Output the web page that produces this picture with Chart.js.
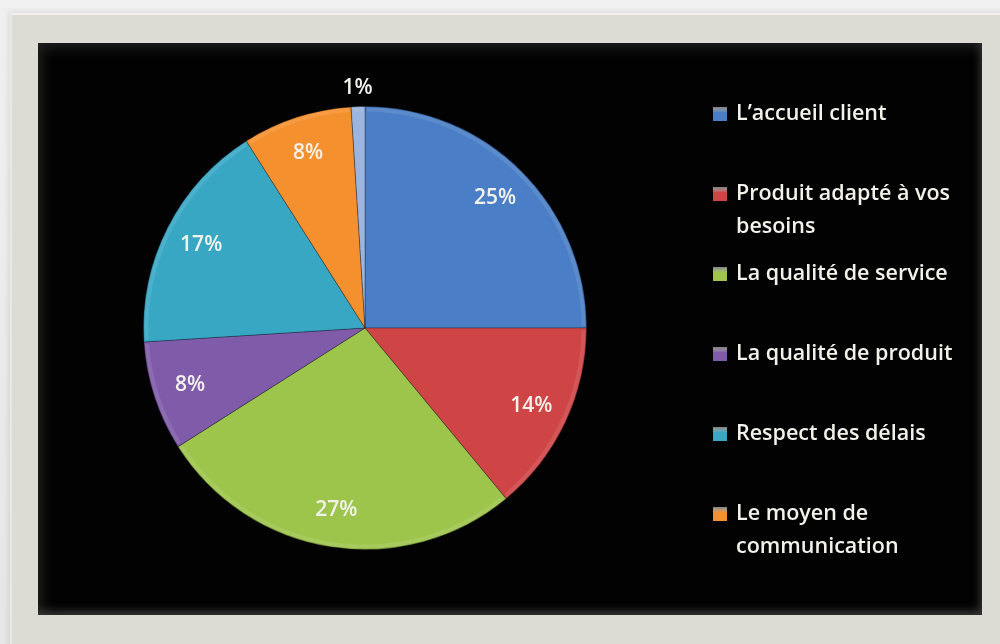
<!DOCTYPE html>
<html>
<head>
<meta charset="utf-8">
<script src="https://cdn.jsdelivr.net/npm/chart.js@4"></script>
<style>
    html, body { margin: 0; padding: 0; width: 1000px; height: 644px; overflow: hidden; }
    body { background: linear-gradient(#f0f0f0, #e6e6e6); position: relative; }
    #frame {
        position: absolute; left: 10px; top: 13px; width: 1000px; height: 650px;
        background: #dddcd4;
        border-top: 2px solid #f1f0ea; border-left: 2px solid #e9e8e2;
        box-shadow: -2px -2px 5px rgba(0,0,0,0.08);
    }
    #panel {
        position: absolute; left: 38px; top: 43px; width: 944px; height: 572px;
        background: #020202;
        box-shadow: inset 10px 10px 14px -6px rgba(70,70,70,0.45), inset -6px -8px 8px -4px rgba(90,90,90,0.6);
    }
    #pieChart { position: absolute; left: 0; top: 0; }
</style>
</head>
<body>
<div id="frame"></div>
<div id="panel"></div>
<canvas id="pieChart" width="1000" height="644"></canvas>
<script>
// categories shown in the legend (the last, smallest slice has no entry)
const categories = [
    ['L\u2019accueil client'],
    ['Produit adapté à vos', 'besoins'],
    ['La qualité de service'],
    ['La qualité de produit'],
    ['Respect des délais'],
    ['Le moyen de', 'communication']
];
const percents = [25, 14, 27, 8, 17, 8, 1];
const sliceColors = ['#4a7ec6', '#cf4546', '#9dc44b', '#7f5ba9', '#38a7c4', '#f5902f', '#9bb5df'];

const textColor = '#f2f2ea';
const fontFamily = '"Open Sans", sans-serif';

// percentage labels inside each slice, the tiny one sits just outside
const sliceLabels = {
    id: 'sliceLabels',
    afterDatasetsDraw(chart) {
        const ctx = chart.ctx;
        const meta = chart.getDatasetMeta(0);
        ctx.save();
        ctx.fillStyle = textColor;
        ctx.font = '600 21px ' + fontFamily;
        ctx.textAlign = 'center';
        ctx.textBaseline = 'middle';
        meta.data.forEach((arc, i) => {
            const v = chart.data.datasets[0].data[i];
            const mid = (arc.startAngle + arc.endAngle) / 2;
            const rr = v < 3 ? arc.outerRadius * 1.085 : arc.outerRadius * 0.83;
            ctx.fillText(v + '%', arc.x + Math.cos(mid) * rr, arc.y + Math.sin(mid) * rr);
        });
        ctx.restore();
    }
};

// soft bevel along the rim of every slice
const bevel = {
    id: 'bevel',
    afterDatasetsDraw(chart) {
        const ctx = chart.ctx;
        const meta = chart.getDatasetMeta(0);
        ctx.save();
        meta.data.forEach(arc => {
            ctx.beginPath();
            ctx.arc(arc.x, arc.y, arc.outerRadius - 3, arc.startAngle + 0.01, arc.endAngle - 0.01);
            ctx.strokeStyle = 'rgba(255,255,255,0.1)';
            ctx.lineWidth = 4;
            ctx.stroke();
        });
        ctx.restore();
    }
};

// legend on the right, one entry every 80px
const sideLegend = {
    id: 'sideLegend',
    afterDraw(chart) {
        const ctx = chart.ctx;
        const colors = chart.data.datasets[0].backgroundColor;
        ctx.save();
        ctx.font = '600 21.5px ' + fontFamily;
        ctx.textBaseline = 'middle';
        categories.forEach((lines, i) => {
            const y = 114 + i * 80;
            const g = ctx.createLinearGradient(0, y - 7, 0, y + 7);
            g.addColorStop(0, 'rgba(255,255,255,0.5)');
            g.addColorStop(0.4, colors[i]);
            g.addColorStop(1, colors[i]);
            ctx.fillStyle = g;
            ctx.fillRect(713, y - 7, 14, 14);
            ctx.fillStyle = textColor;
            lines.forEach((line, j) => {
                ctx.fillText(line, 736, y + j * 33);
            });
        });
        ctx.restore();
    }
};

const ctxPie = document.getElementById('pieChart').getContext('2d');
const myPieChart = new Chart(ctxPie, {
    type: 'pie',
    data: {
        labels: categories,
        datasets: [{
            data: percents,
            backgroundColor: sliceColors,
            borderColor: 'rgba(20,20,30,0.35)',
            borderWidth: 1
        }]
    },
    options: {
        responsive: false,
        animation: false,
        layout: {
            padding: { left: 143, top: 106, right: 413, bottom: 94 }
        },
        plugins: {
            legend: { display: false },
            tooltip: { enabled: false }
        }
    },
    plugins: [bevel, sliceLabels, sideLegend]
});
</script>
</body>
</html>
